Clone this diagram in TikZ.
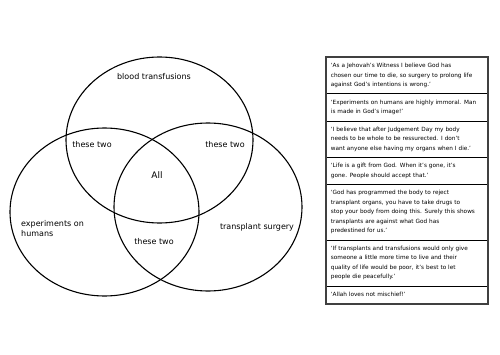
\documentclass[tikz,border=0pt]{standalone}
\usepackage{fontspec}
\setmainfont{DejaVu Sans}
\usetikzlibrary{shapes.geometric}
\begin{document}
\begin{tikzpicture}[x=1pt,y=1pt,
  venn/.style={ellipse, draw, line width=1.1pt, inner sep=0pt},
  lbl/.style={font=\fontsize{8}{10}\selectfont, inner sep=0pt},
  row/.style={draw, line width=0.8pt, anchor=north west, rectangle, inner xsep=4.5pt, inner ysep=0pt,
    text width=152pt, align=left, font=\fontsize{5.75}{9.5}\selectfont}
]
\useasboundingbox (0,0) rectangle (500,354);
% Venn ellipses
\node[venn, minimum width=187pt, minimum height=166pt] (top) at (159.5,214) {};
\node[venn, minimum width=189pt, minimum height=168pt] (left) at (104.5,142) {};
\node[venn, minimum width=188pt, minimum height=168pt] (right) at (208,147) {};
% labels
\node[lbl] (bt) at (154,277) {blood transfusions};
\node[lbl] (tl) at (92,209) {these two};
\node[lbl] (tr) at (225,209) {these two};
\node[lbl, font=\fontsize{9}{11}\selectfont] (all) at (157,179) {All};
\node[lbl, anchor=west, align=left] (exp) at (21,125) {experiments on\\humans};
\node[lbl] (ts) at (257,127) {transplant surgery};
\node[lbl] (tb) at (154,112) {these two};
% quote boxes
\node[row, minimum height=36.5pt] (r1) at (326,297) {`As a Jehovah's Witness I believe God has\\chosen our time to die, so surgery to prolong life\\against God's intentions is wrong.'};
\node[row, minimum height=27pt] (r2) at (326,260.5) {`Experiments on humans are highly immoral. Man\\is made in God's image!'};
\node[row, minimum height=36.5pt] (r3) at (326,233.5) {`I believe that after Judgement Day my body\\needs to be whole to be ressurected. I don't\\want anyone else having my organs when I die.'};
\node[row, minimum height=27pt] (r4) at (326,197) {`Life is a gift from God. When it's gone, it's\\gone. People should accept that.'};
\node[row, minimum height=55.5pt] (r5) at (326,170) {`God has programmed the body to reject\\transplant organs, you have to take drugs to\\stop your body from doing this. Surely this shows\\transplants are against what God has\\predestined for us.'};
\node[row, minimum height=46pt] (r6) at (326,114.5) {`If transplants and transfusions would only give\\someone a little more time to live and their\\quality of life would be poor, it's best to let\\people die peacefully.'};
\node[row, minimum height=17.5pt] (r7) at (326,68.5) {`Allah loves not mischief!'};
\draw[line width=1.6pt, black!75] (r1.north west) rectangle (r7.south east);
\end{tikzpicture}
\end{document}
